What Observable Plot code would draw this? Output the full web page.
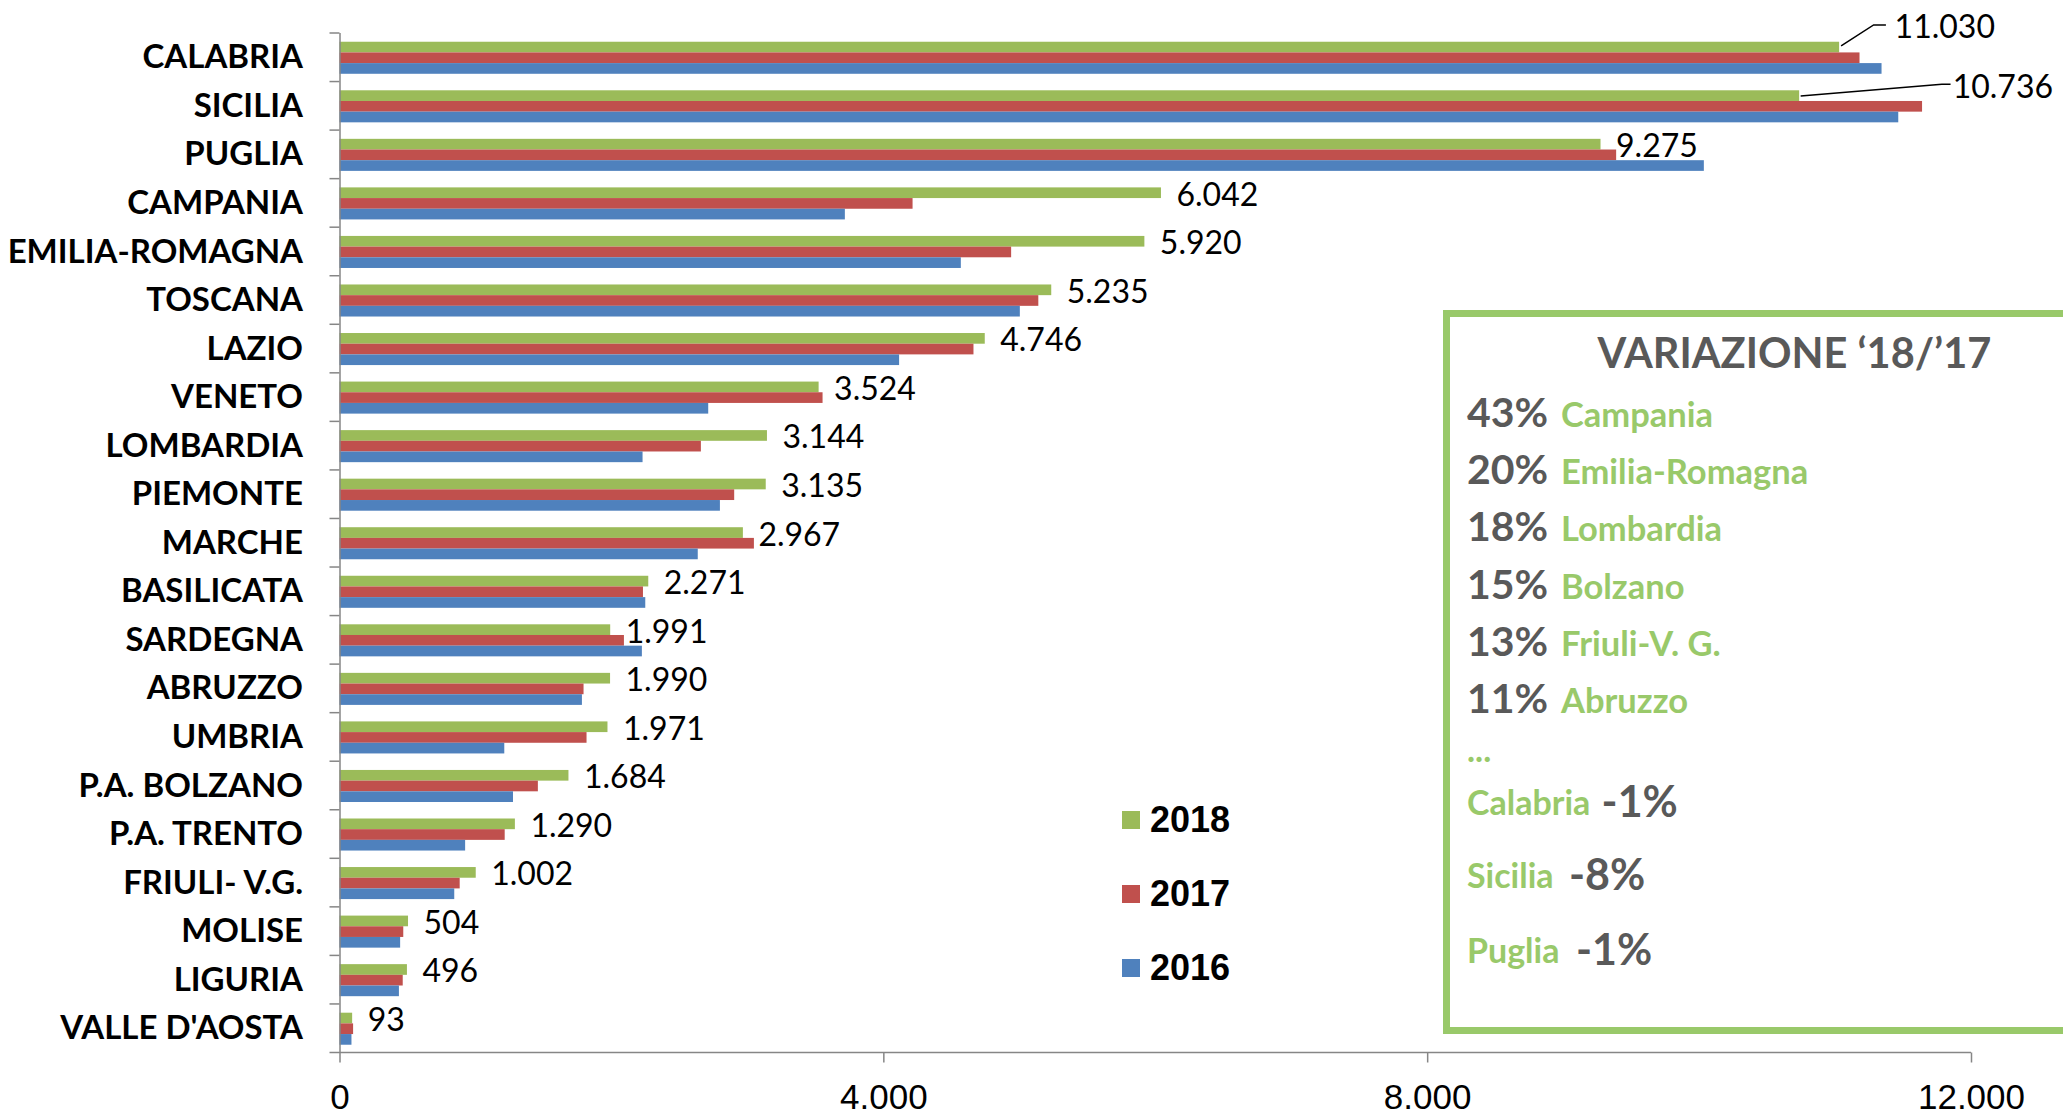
<!DOCTYPE html>
<html>
<head>
<meta charset="utf-8">
<script src="https://cdn.jsdelivr.net/npm/d3@7"></script>
<script src="https://cdn.jsdelivr.net/npm/@observablehq/plot@0.6"></script>
<style>
html, body { margin: 0; padding: 0; background: #fff; }
#wrap { position: relative; width: 2063px; height: 1117px; overflow: hidden; background: #fff; }
.leg { position: absolute; display: flex; align-items: center; height: 40px; font-family: "Liberation Sans", Arial, sans-serif; font-weight: bold; font-size: 36px; color: #000; }
.leg span.sw { display: inline-block; width: 18px; height: 18px; margin-right: 10px; }
</style>
</head>
<body>
<div id="wrap"></div>
<script>
// ---------------- data ----------------
const regions = ["CALABRIA","SICILIA","PUGLIA","CAMPANIA","EMILIA-ROMAGNA","TOSCANA","LAZIO","VENETO","LOMBARDIA","PIEMONTE","MARCHE","BASILICATA","SARDEGNA","ABRUZZO","UMBRIA","P.A. BOLZANO","P.A. TRENTO","FRIULI- V.G.","MOLISE","LIGURIA","VALLE D'AOSTA"];
const years = ["2018", "2017", "2016"];
const v2018 = [11030,10736,9275,6042,5920,5235,4746,3524,3144,3135,2967,2271,1991,1990,1971,1684,1290,1002,504,496,93];
const v2017 = [11180,11640,9390,4215,4940,5140,4663,3553,2658,2903,3048,2232,2092,1795,1817,1459,1215,884,469,465,100];
const v2016 = [11342,11465,10035,3717,4570,5004,4116,2712,2229,2798,2635,2249,2224,1783,1212,1276,924,844,446,437,88];
const xTicks = [0, 4000, 8000, 12000];
const yearColors = ["#9BBB59", "#C0504D", "#4F81BD"];
const boxTitle = "VARIAZIONE \u201818/\u201917";
const varTopPct = ["43%","20%","18%","15%","13%","11%"];
const varTopName = ["Campania","Emilia-Romagna","Lombardia","Bolzano","Friuli-V. G.","Abruzzo"];
const varEllipsis = "...";
const varLowName = ["Calabria","Sicilia","Puglia"];
const varLowPct = ["-1%","-8%","-1%"];

// ---------------- layout ----------------
const W = 2063, H = 1117;
const mL = 339.5, mR = 92, mT = 33, mB = 64.5;
const step = (H - mT - mB) / regions.length;
const axisGray = "#868686";
const green = "#99C96A";
const gray = "#595959";

const fmt = d3.formatLocale({decimal: ",", thousands: ".", grouping: [3], currency: ["", "\u20AC"]}).format(",");

const series = {"2018": v2018, "2017": v2017, "2016": v2016};
const rows = regions.flatMap((r, i) => years.map(yr => ({region: r, year: yr, value: series[yr][i]})));
const rows2018 = rows.filter(d => d.year === "2018");

// bar slot inside each category (fractions of the band): [top, bottom]
const slots = {"2018": [0.18, 0.60], "2017": [0.40, 0.38], "2016": [0.62, 0.16]};

const bars = years.map((yr, k) => Plot.barX(rows.filter(d => d.year === yr), {
  x: "value", y: "region", fill: yearColors[k],
  insetTop: slots[yr][0] * step, insetBottom: slots[yr][1] * step
}));

const labelStyle = {fontSize: 32, fontFamily: "Lato, 'Open Sans', sans-serif", fill: "#000", textAnchor: "start"};

function axisLinesAndLeaders(index, scales, values, dims) {
  const g = d3.create("svg:g");
  const x = scales.x, y = scales.y;
  const bw = y.bandwidth ? y.bandwidth() : step;
  const x0 = dims.marginLeft, yb = dims.height - dims.marginBottom;
  // category boundary ticks (left of the vertical axis)
  for (const r of regions) {
    g.append("line").attr("x1", x0 - 10).attr("x2", x0).attr("y1", y(r)).attr("y2", y(r))
      .attr("stroke", axisGray).attr("stroke-width", 1.5);
  }
  // bottom axis line (extends to the left like the category ticks)
  g.append("line")
    .attr("x1", x0 - 10).attr("x2", dims.width - dims.marginRight)
    .attr("y1", yb).attr("y2", yb)
    .attr("stroke", axisGray).attr("stroke-width", 1.5);
  // leader lines for the displaced labels
  const specs = [
    {i: 0, pts: [[2, -11.3], [34.5, -32.3], [46.8, -32.3]]},
    {i: 1, pts: [[1.5, -9.8], [142.7, -21.5], [151.4, -21.5]]}
  ];
  for (const s of specs) {
    const d = rows2018[s.i];
    const bx = x(d.value), by = y(d.region) + bw / 2;
    g.append("path")
      .attr("d", d3.line()(s.pts.map(([dx, dy]) => [bx + dx, by + dy])))
      .attr("fill", "none").attr("stroke", "#000").attr("stroke-width", 1.5);
  }
  return g.node();
}

const chart = Plot.plot({
  width: W, height: H,
  marginLeft: mL, marginRight: mR, marginTop: mT, marginBottom: mB,
  style: {background: "transparent", overflow: "visible"},
  x: {domain: [0, 12000]},
  y: {domain: regions, type: "band", padding: 0, round: false},
  marks: [
    ...bars,
    Plot.text(rows2018.slice(2), {x: "value", y: "region", text: d => fmt(d.value), dx: 15, dy: -8, ...labelStyle}),
    Plot.text([rows2018[0]], {x: "value", y: "region", text: d => fmt(d.value), dx: 55, dy: -30.5, ...labelStyle}),
    Plot.text([rows2018[1]], {x: "value", y: "region", text: d => fmt(d.value), dx: 153, dy: -18.3, ...labelStyle}),
    Plot.ruleX([0], {stroke: axisGray, strokeWidth: 1.5}),
    Plot.axisY({tickSize: 0, tickPadding: 37, fontSize: 33, fontWeight: "bold", fontFamily: "Lato, 'Open Sans', sans-serif", fill: "#000", label: null}),
    Plot.axisX({ticks: xTicks, tickFormat: fmt, tickSize: 10, tickPadding: 21, fontSize: 35, fontFamily: "'Liberation Sans', Arial, sans-serif", stroke: axisGray, strokeWidth: 1.5, fill: "#000", label: null}),
    axisLinesAndLeaders
  ]
});

const wrap = document.getElementById("wrap");
chart.style.position = "absolute";
chart.style.left = "0px";
chart.style.top = "0px";
wrap.appendChild(chart);

// legend (inside plot area)
const legendCenters = [820, 893.5, 967.5];
years.forEach((yr, k) => {
  const div = document.createElement("div");
  div.className = "leg";
  div.style.left = "1122px";
  div.style.top = (legendCenters[k] - 20) + "px";
  const sw = document.createElement("span");
  sw.className = "sw";
  sw.style.background = yearColors[k];
  div.appendChild(sw);
  div.appendChild(document.createTextNode(yr));
  wrap.appendChild(div);
});

// variation box
const ov = d3.select(wrap).append("svg")
  .attr("width", W).attr("height", H)
  .style("position", "absolute").style("left", "0px").style("top", "0px")
  .style("pointer-events", "none");
ov.append("rect").attr("x", 1446.5).attr("y", 313.5).attr("width", 700).attr("height", 717)
  .attr("fill", "none").attr("stroke", green).attr("stroke-width", 7);
const ff = "Lato, 'Open Sans', sans-serif";
ov.append("text").attr("x", 1597.5).attr("y", 368).text(boxTitle)
  .attr("font-family", ff).attr("font-weight", "bold").attr("font-size", 41.5).attr("fill", gray);
varTopPct.forEach((p, i) => {
  const by = 426.7 + 57.3 * i;
  ov.append("text").attr("x", 1467).attr("y", by).text(p)
    .attr("font-family", ff).attr("font-weight", "bold").attr("font-size", 41).attr("fill", gray);
  ov.append("text").attr("x", 1561).attr("y", by).text(varTopName[i])
    .attr("font-family", ff).attr("font-weight", "bold").attr("font-size", 34.5).attr("fill", green);
});
ov.append("text").attr("x", 1467).attr("y", 762).text(varEllipsis)
  .attr("font-family", ff).attr("font-weight", "bold").attr("font-size", 34).attr("fill", green);
const lowBase = [815, 888.3, 963];
const lowPctX = [1601.6, 1569, 1576];
varLowName.forEach((n, i) => {
  ov.append("text").attr("x", 1467).attr("y", lowBase[i]).text(n)
    .attr("font-family", ff).attr("font-weight", "bold").attr("font-size", 34).attr("fill", green);
  ov.append("text").attr("x", lowPctX[i]).attr("y", lowBase[i] + 1.5).text(varLowPct[i])
    .attr("font-family", ff).attr("font-weight", "bold").attr("font-size", 43).attr("fill", gray);
});
</script>
</body>
</html>
